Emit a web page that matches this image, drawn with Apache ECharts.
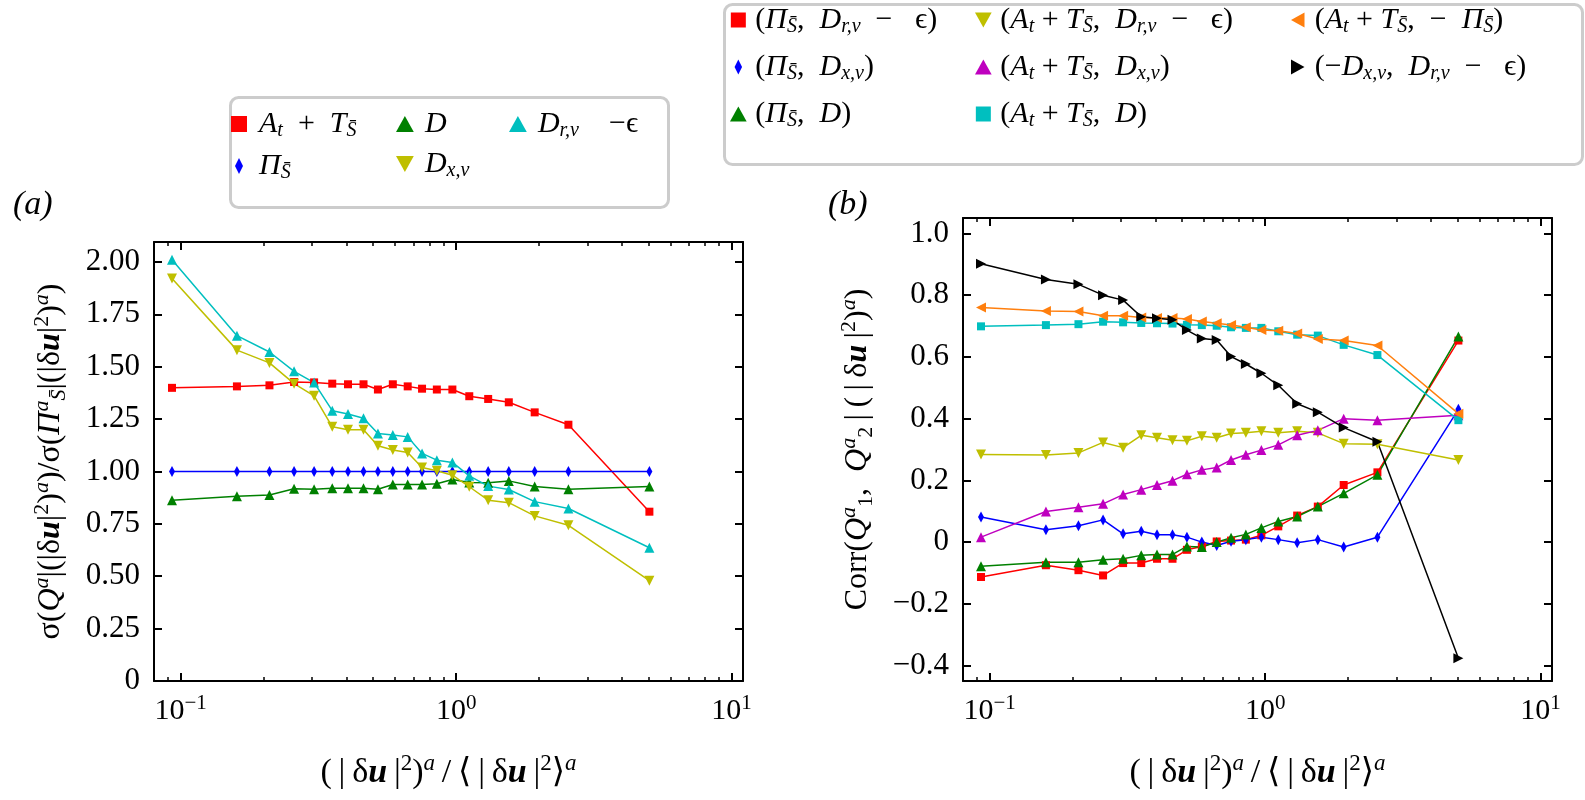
<!DOCTYPE html>
<html><head><meta charset="utf-8">
<script src="https://cdn.jsdelivr.net/npm/echarts@6/dist/echarts.min.js"></script>
<style>html,body{margin:0;padding:0;background:#fff}#c{width:1585px;height:800px}</style>
</head><body><div id="c"></div><script>
const FONT = '"Liberation Serif","DejaVu Serif",serif';

// shared x values (bins)
const xVals = [0.093, 0.16, 0.21, 0.258, 0.305, 0.355, 0.405, 0.461, 0.52, 0.589, 0.667, 0.752, 0.851, 0.969, 1.116, 1.307, 1.553, 1.928, 2.556, 5.03];

// panel (a)
const aAT  = [1.399,1.406,1.411,1.427,1.425,1.419,1.416,1.416,1.391,1.416,1.406,1.395,1.391,1.391,1.359,1.346,1.330,1.282,1.223,0.808];
const aPi  = [1,1,1,1,1,1,1,1,1,1,1,1,1,1,1,1,1,1,1,1];
const aD   = [0.863,0.882,0.888,0.917,0.915,0.920,0.920,0.920,0.915,0.938,0.938,0.938,0.941,0.962,0.947,0.946,0.955,0.928,0.915,0.928];
const aDxv = [1.921,1.579,1.518,1.419,1.361,1.213,1.199,1.199,1.123,1.102,1.090,1.019,1.003,0.982,0.927,0.863,0.851,0.788,0.743,0.479];
const aDrv = [2.010,1.648,1.570,1.478,1.424,1.290,1.274,1.254,1.181,1.174,1.165,1.086,1.054,1.043,0.979,0.930,0.914,0.856,0.823,0.636];

// panel (b)
const bPiDrv  = [-0.113,-0.075,-0.091,-0.108,-0.068,-0.068,-0.054,-0.054,-0.025,-0.014,0.002,0.005,0.008,0.022,0.051,0.086,0.115,0.185,0.226,0.653];
const bPiDxv  = [0.081,0.040,0.053,0.072,0.027,0.035,0.024,0.024,0.016,0.000,-0.011,0.003,0.008,0.016,0.008,-0.002,0.008,-0.016,0.016,0.430];
const bPiD    = [-0.078,-0.065,-0.065,-0.057,-0.054,-0.043,-0.040,-0.040,-0.014,-0.016,0.000,0.014,0.025,0.046,0.067,0.083,0.115,0.158,0.218,0.666];
const bATDrv  = [0.284,0.282,0.289,0.323,0.306,0.346,0.338,0.330,0.328,0.343,0.338,0.352,0.354,0.359,0.354,0.359,0.354,0.319,0.317,0.266];
const bATDxv  = [0.016,0.099,0.113,0.124,0.154,0.170,0.185,0.199,0.220,0.234,0.242,0.266,0.283,0.298,0.315,0.346,0.362,0.400,0.395,0.411];
const bATD    = [0.699,0.703,0.706,0.714,0.712,0.710,0.709,0.708,0.704,0.703,0.701,0.696,0.694,0.694,0.683,0.672,0.669,0.639,0.606,0.395];
const bATPi   = [0.760,0.749,0.747,0.733,0.733,0.728,0.726,0.726,0.723,0.715,0.709,0.703,0.696,0.687,0.685,0.676,0.658,0.653,0.637,0.416];
const bDxvDrv = [0.902,0.851,0.835,0.800,0.784,0.730,0.725,0.720,0.687,0.660,0.655,0.601,0.577,0.547,0.508,0.448,0.421,0.371,0.325,-0.376];

// ticks
const xMajor = [0.1, 1, 10];
const xMinor = [0.08,0.09,0.2,0.3,0.4,0.5,0.6,0.7,0.8,0.9,2,3,4,5,6,7,8,9];
const yTicksA = [0,0.25,0.5,0.75,1,1.25,1.5,1.75,2];
const yTicksB = [-0.4,-0.2,0,0.2,0.4,0.6,0.8,1.0];

function mkRich(fs, lh, sfs, sp) {
  const base = {fontFamily: FONT, color: '#000'};
  return {
    r:    Object.assign({}, base, {fontSize: fs, lineHeight: lh}),
    i:    Object.assign({}, base, {fontSize: fs, lineHeight: lh, fontStyle: 'italic'}),
    bu:   Object.assign({}, base, {fontSize: fs, lineHeight: lh, fontStyle: 'italic', fontWeight: 'bold'}),
    sub:  Object.assign({}, base, {fontSize: sfs, fontStyle: 'italic', padding: [sp,0,0,0]}),
    subr: Object.assign({}, base, {fontSize: sfs, padding: [sp,0,0,0]}),
    sup:  Object.assign({}, base, {fontSize: sfs, padding: [0,0,sp,0]}),
    supi: Object.assign({}, base, {fontSize: sfs, fontStyle: 'italic', padding: [0,0,sp,0]})
  };
}
const richLeg = mkRich(30, 36, 20, 14);
const richX = mkRich(34, 44, 23, 18);
const richY = mkRich(32, 42, 22, 17);
const richTick = {
  n: {fontFamily: FONT, fontSize: 30, color: '#000'},
  s: {fontFamily: FONT, fontSize: 21, color: '#000', padding: [0,0,16,0]}
};

const SB = 'S\u0304';
const T = '\u2009';
const legendText = {
  a_AT:  '{i|A}{sub|t}{r|  +  }{i|T}{sub|' + SB + '}',
  a_Pi:  '{i|Π}{sub|' + SB + '}',
  a_D:   '{i|D}',
  a_Dxv: '{i|D}{sub|x,v}',
  a_Drv: '{i|D}{sub|r,v}{r|    −ϵ}',
  b_PiDrv:  '{r|(}{i|Π}{sub|' + SB + '}{r|,  }{i|D}{sub|r,v}{r|  −   ϵ)}',
  b_PiDxv:  '{r|(}{i|Π}{sub|' + SB + '}{r|,  }{i|D}{sub|x,v}{r|)}',
  b_PiD:    '{r|(}{i|Π}{sub|' + SB + '}{r|,  }{i|D}{r|)}',
  b_ATDrv:  '{r|(}{i|A}{sub|t}{r| + }{i|T}{sub|' + SB + '}{r|,  }{i|D}{sub|r,v}{r|  −   ϵ)}',
  b_ATDxv:  '{r|(}{i|A}{sub|t}{r| + }{i|T}{sub|' + SB + '}{r|,  }{i|D}{sub|x,v}{r|)}',
  b_ATD:    '{r|(}{i|A}{sub|t}{r| + }{i|T}{sub|' + SB + '}{r|,  }{i|D}{r|)}',
  b_ATPi:   '{r|(}{i|A}{sub|t}{r| + }{i|T}{sub|' + SB + '}{r|,  −  }{i|Π}{sub|' + SB + '}{r|)}',
  b_DxvDrv: '{r|(−}{i|D}{sub|x,v}{r|,  }{i|D}{sub|r,v}{r|  −   ϵ)}'
};
const ICON = {
  sq: 'path://M0,0H10V10H0Z',
  dia: 'path://M5,0L10,10L5,20L0,10Z',
  up: 'path://M0,9L5,0L10,9Z',
  down: 'path://M0,0L10,0L5,9Z',
  left: 'path://M9,0L9,10L0,5Z',
  right: 'path://M0,0L9,5L0,10Z'
};
const legendIcon = {
  a_AT: 'sq', a_Pi: 'dia', a_D: 'up', a_Dxv: 'down', a_Drv: 'up',
  b_PiDrv: 'sq', b_PiDxv: 'dia', b_PiD: 'up', b_ATDrv: 'down', b_ATDxv: 'up', b_ATD: 'sq', b_ATPi: 'left', b_DxvDrv: 'right'
};

const xName = '{r|(' + T + '|' + T + 'δ}{bu|u}{r|' + T + '|}{sup|2}{r|)}{supi|a}{r|' + T + '/' + T + '⟨' + T + '|' + T + 'δ}{bu|u}{r|' + T + '|}{sup|2}{r|⟩}{supi|a}';
const yNameA = '{r|σ(}{i|Q}{supi|a}{r||(|δ}{bu|u}{r||}{sup|2}{r|)}{supi|a}{r|)/σ(}{i|Π}{supi|a}{sub|' + SB + '}{r||(|δ}{bu|u}{r||}{sup|2}{r|)}{supi|a}{r|)}';
const yNameB = '{r|Corr(}{i|Q}{supi|a}{subr|1}{r|,  }{i|Q}{supi|a}{subr|2}{r|' + T + '|' + T + '(' + T + '|' + T + 'δ}{bu|u}{r|' + T + '|}{sup|2}{r|)}{supi|a}{r|)}';

const LS = {color: '#000', width: 2};
function fmtPow(v) {
  const e = Math.round(Math.log10(v));
  return '{n|10}{s|' + (e < 0 ? '−' + (-e) : e) + '}';
}
function xAxes(g) {
  const base = {gridIndex: g, type: 'log', logBase: 10, min: 0.08, max: 11, splitLine: {show: false}, splitArea: {show: false}};
  return [
    Object.assign({}, base, {position: 'bottom',
      axisLine: {show: true, onZero: false, lineStyle: LS},
      axisTick: {show: true, inside: true, length: 8, customValues: xMajor, lineStyle: LS},
      axisLabel: {show: true, customValues: xMajor, formatter: fmtPow, rich: richTick, margin: 12},
      name: xName, nameLocation: 'middle', nameGap: 70, nameTextStyle: {rich: richX}}),
    Object.assign({}, base, {position: 'bottom',
      axisLine: {show: false, onZero: false},
      axisTick: {show: true, inside: true, length: 4, customValues: xMinor, lineStyle: {color: '#000', width: 1.5}},
      axisLabel: {show: false}}),
    Object.assign({}, base, {position: 'top',
      axisLine: {show: true, onZero: false, lineStyle: LS},
      axisTick: {show: true, inside: true, length: 8, customValues: xMajor, lineStyle: LS},
      axisLabel: {show: false}}),
    Object.assign({}, base, {position: 'top',
      axisLine: {show: false, onZero: false},
      axisTick: {show: true, inside: true, length: 4, customValues: xMinor, lineStyle: {color: '#000', width: 1.5}},
      axisLabel: {show: false}})
  ];
}
function yAxes(g, min, max, ticks, fmt, name, gap) {
  return [
    {gridIndex: g, type: 'value', min: min, max: max, position: 'left',
      axisLine: {show: true, onZero: false, lineStyle: LS},
      axisTick: {show: true, inside: true, length: 8, customValues: ticks, lineStyle: LS},
      axisLabel: {show: true, customValues: ticks, formatter: fmt, fontSize: 31, fontFamily: FONT, color: '#000', margin: 14},
      splitLine: {show: false},
      name: name, nameLocation: 'middle', nameGap: gap, nameRotate: 90, nameTextStyle: {rich: richY}},
    {gridIndex: g, type: 'value', min: min, max: max, position: 'right',
      axisLine: {show: true, onZero: false, lineStyle: LS},
      axisTick: {show: true, inside: true, length: 8, customValues: ticks, lineStyle: LS},
      axisLabel: {show: false}, splitLine: {show: false}}
  ];
}

function ser(name, g, vals, color, symbol, size, rot) {
  return {
    name: name, type: 'line', xAxisIndex: g * 4, yAxisIndex: g * 2,
    data: xVals.map((x, i) => [x, vals[i]]),
    symbol: symbol, symbolSize: size, symbolRotate: rot || 0, showAllSymbol: true,
    lineStyle: {color: color, width: 1.5}, itemStyle: {color: color, borderWidth: 0},
    emphasis: {disabled: true}, clip: false
  };
}
const TRI = 10, SQ = 8, DIA = [6, 11];
const series = [
  ser('a_AT', 0, aAT, '#ff0000', 'rect', SQ),
  ser('a_Pi', 0, aPi, '#0000ff', 'diamond', DIA),
  ser('a_D', 0, aD, '#008000', 'triangle', TRI),
  ser('a_Dxv', 0, aDxv, '#bfbf00', 'triangle', TRI, 180),
  ser('a_Drv', 0, aDrv, '#00bfbf', 'triangle', TRI),
  ser('b_PiDrv', 1, bPiDrv, '#ff0000', 'rect', SQ),
  ser('b_PiDxv', 1, bPiDxv, '#0000ff', 'diamond', DIA),
  ser('b_PiD', 1, bPiD, '#008000', 'triangle', TRI),
  ser('b_ATDrv', 1, bATDrv, '#bfbf00', 'triangle', TRI, 180),
  ser('b_ATDxv', 1, bATDxv, '#bf00bf', 'triangle', TRI),
  ser('b_ATD', 1, bATD, '#00bfbf', 'rect', SQ),
  ser('b_ATPi', 1, bATPi, '#ff7f0e', 'triangle', TRI, 90),
  ser('b_DxvDrv', 1, bDxvDrv, '#000000', 'triangle', TRI, -90)
];

function leg(names, left, top, gap, iw, ih) {
  return {
    data: names.map(n => ({name: n, icon: ICON[legendIcon[n]]})),
    orient: 'vertical', left: left, top: top, itemGap: gap,
    itemWidth: iw, itemHeight: ih, selectedMode: false, symbolKeepAspect: true,
    formatter: n => legendText[n],
    textStyle: {fontFamily: FONT, fontSize: 30, color: '#000', rich: richLeg},
    padding: 0
  };
}

const option = {
  animation: false,
  backgroundColor: '#fff',
  grid: [
    {left: 154, top: 242, width: 589, height: 439},
    {left: 963, top: 218, width: 589, height: 463}
  ],
  xAxis: xAxes(0).concat(xAxes(1)),
  yAxis: yAxes(0, 0, 2.095, yTicksA, v => v === 0 ? '0' : v.toFixed(2), yNameA, 82)
    .concat(yAxes(1, -0.45, 1.05, yTicksB, v => Math.abs(v) < 1e-9 ? '0' : v.toFixed(1).replace('-', '−'), yNameB, 84)),
  legend: [
    leg(['a_AT', 'a_Pi'], 231, 109, 10, 30, 16),
    leg(['a_D', 'a_Dxv'], 396, 109, 10, 30, 16),
    leg(['a_Drv'], 509, 109, 10, 30, 16),
    leg(['b_PiDrv', 'b_PiDxv', 'b_PiD'], 730, 5, 15, 24, 15),
    leg(['b_ATDrv', 'b_ATDxv', 'b_ATD'], 975, 5, 15, 24, 15),
    leg(['b_ATPi', 'b_DxvDrv'], 1291, 5, 15, 24, 15)
  ],
  graphic: [
    {type: 'rect', left: 229, top: 96, z: -10, shape: {width: 438, height: 110, r: 8},
      style: {fill: '#fff', stroke: '#cccccc', lineWidth: 3}},
    {type: 'rect', left: 723, top: 3, z: -10, shape: {width: 858, height: 160, r: 8},
      style: {fill: '#fff', stroke: '#cccccc', lineWidth: 3}},
    {type: 'text', left: 13, top: 188, style: {text: '(a)', font: 'italic 34px "Liberation Serif"', fill: '#000'}},
    {type: 'text', left: 828, top: 188, style: {text: '(b)', font: 'italic 34px "Liberation Serif"', fill: '#000'}}
  ],
  series: series
};
const chart = echarts.init(document.getElementById('c'), null, {renderer: 'canvas'});
chart.setOption(option);
</script></body></html>
